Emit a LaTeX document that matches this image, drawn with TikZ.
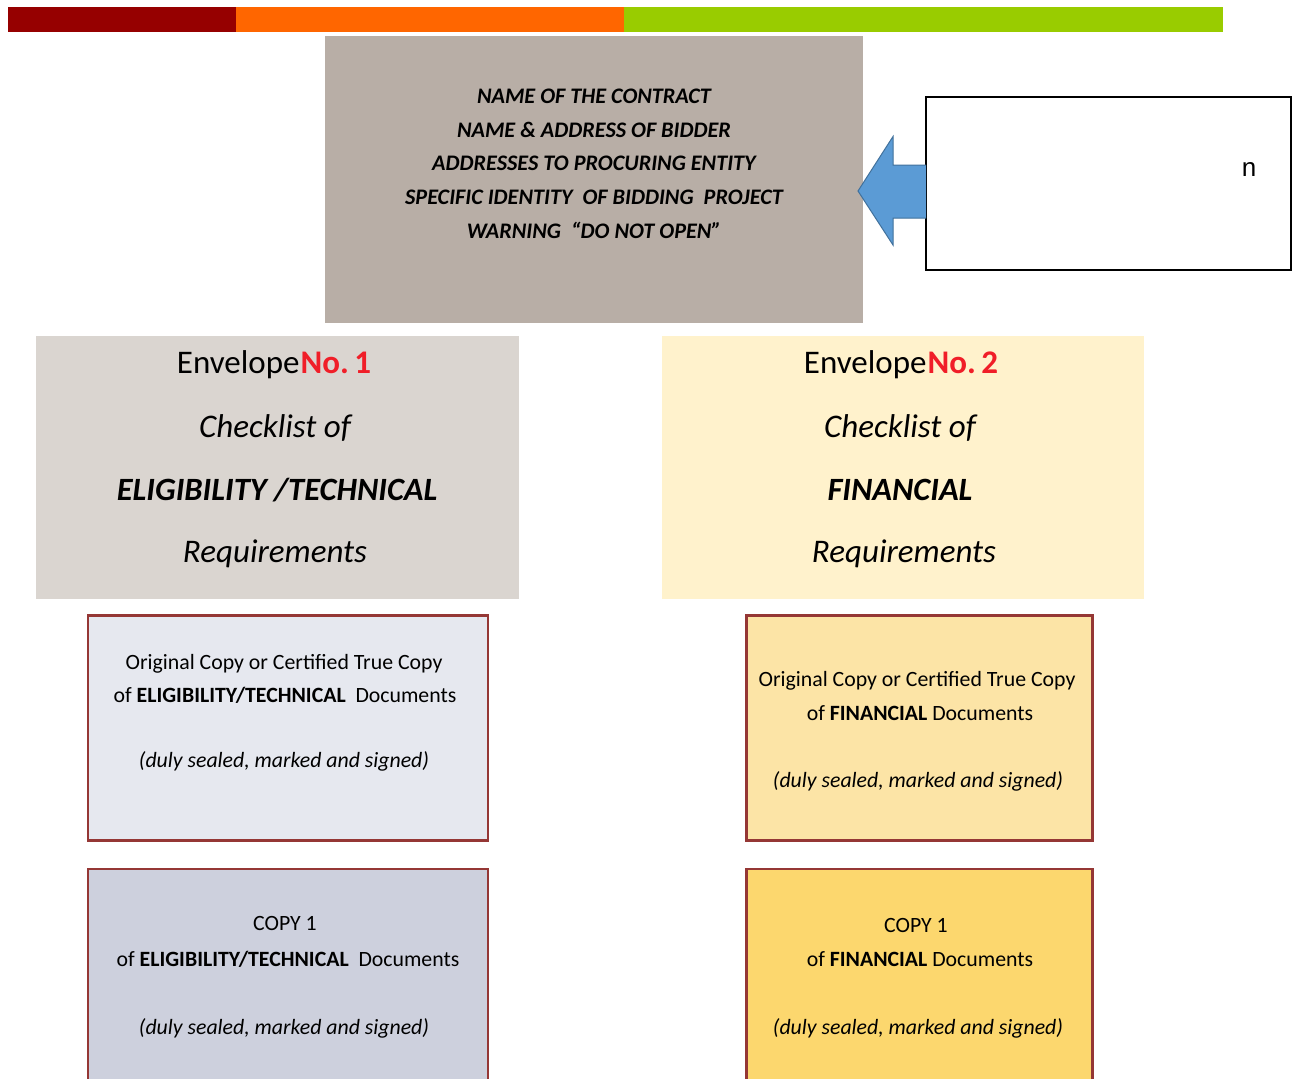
\documentclass[tikz,border=0pt]{standalone}
\usepackage{fontspec}
\setmainfont{Carlito}
\newfontfamily\arialfont{Liberation Sans}
\definecolor{bardark}{HTML}{960000}
\definecolor{barorange}{HTML}{FF6600}
\definecolor{bargreen}{HTML}{99CC00}
\definecolor{topfill}{HTML}{B8AEA6}
\definecolor{envonefill}{HTML}{DAD5D0}
\definecolor{envtwofill}{HTML}{FFF2CC}
\definecolor{ocfill}{HTML}{E6E8EF}
\definecolor{cofill}{HTML}{CDD0DD}
\definecolor{offill}{HTML}{FCE4A6}
\definecolor{cffill}{HTML}{FCD76E}
\definecolor{boxborder}{HTML}{953735}
\definecolor{arrowfill}{HTML}{5B9BD5}
\definecolor{arrowline}{HTML}{41719C}
\definecolor{nored}{HTML}{F01E28}
\tikzset{
  panel/.style={draw=none, rectangle, inner sep=0pt, outer sep=0pt},
  docbox/.style={draw=boxborder, line width=2.2pt, rectangle, inner sep=0pt, outer sep=0pt},
  toptext/.style={anchor=base, inner sep=0pt, font=\fontsize{22.2}{27}\selectfont\bfseries\itshape},
  envtext/.style={anchor=base, inner sep=0pt, font=\fontsize{33}{40}\selectfont},
  doctext/.style={anchor=base, inner sep=0pt, font=\fontsize{21.8}{26}\selectfont},
}
\begin{document}
\begin{tikzpicture}[x=1pt,y=-1pt]
\useasboundingbox (0,0) rectangle (1299,1079);
\fill[white] (0,0) rectangle (1299,1079);
% top bar
\fill[bardark] (7.5,7) rectangle (236,32);
\fill[barorange] (236,7) rectangle (624,32);
\fill[bargreen] (624,7) rectangle (1223,32);
% top box
\node[panel, fill=topfill, minimum width=538pt, minimum height=287pt] (top) at (594,179.5) {};
\node[toptext] (t1) at (594,103) {NAME OF THE CONTRACT};
\node[toptext] (t2) at (594,137) {NAME \& ADDRESS OF BIDDER};
\node[toptext] (t3) at (594,170) {ADDRESSES TO PROCURING ENTITY};
\node[toptext] (t4) at (594,204) {SPECIFIC IDENTITY\ \ OF BIDDING\ \ PROJECT};
\node[toptext] (t5) at (594,238) {WARNING\ \ “DO NOT OPEN”};
% white box with n
\node[draw=black, line width=2pt, rectangle, minimum width=365pt, minimum height=173pt, inner sep=0pt, outer sep=0pt, fill=white] (note) at (1108.5,183.5) {};
\node[anchor=base, inner sep=0pt, font=\arialfont\fontsize{26}{30}\selectfont] (nchar) at (1249,176) {n};
% blue arrow
\coordinate (arrtip) at (858,191);
\draw[fill=arrowfill, draw=arrowline, line width=1pt, line join=miter]
  (note.west |- 0,165) -- (893,165) -- (893,136.5) -- (arrtip) -- (893,245) -- (893,218) -- (note.west |- 0,218);
% envelope 1
\node[panel, fill=envonefill, minimum width=483pt, minimum height=263pt] (env1) at (277.5,467.5) {};
\node[envtext] (e1a) at (274,373) {Envelope\hspace{1pt}{\color{nored}\bfseries No.\,1}};
\node[envtext, font=\fontsize{33}{40}\selectfont\itshape] (e1b) at (275,437) {Checklist of};
\node[envtext, font=\fontsize{32.5}{40}\selectfont\bfseries\itshape] (e1c) at (277,500) {ELIGIBILITY /TECHNICAL};
\node[envtext, font=\fontsize{33}{40}\selectfont\itshape] (e1d) at (275,562) {Requirements};
% envelope 2
\node[panel, fill=envtwofill, minimum width=482pt, minimum height=263pt] (env2) at (903,467.5) {};
\node[envtext] (e2a) at (901,373) {Envelope\hspace{1pt}{\color{nored}\bfseries No.\,2}};
\node[envtext, font=\fontsize{33}{40}\selectfont\itshape] (e2b) at (900,437) {Checklist of};
\node[envtext, font=\fontsize{32.5}{40}\selectfont\bfseries\itshape] (e2c) at (900,500) {FINANCIAL};
\node[envtext, font=\fontsize{33}{40}\selectfont\itshape] (e2d) at (904,562) {Requirements};
% original copy 1
\node[docbox, fill=ocfill, minimum width=400pt, minimum height=225pt] (oc1) at (288,728) {};
\node[doctext] (oc1a) at (284,669) {Original Copy or Certified True Copy};
\node[doctext] (oc1b) at (285,702) {of \textbf{ELIGIBILITY/TECHNICAL}\ \ Documents};
\node[doctext, font=\fontsize{21.8}{26}\selectfont\itshape] (oc1c) at (284,767) {(duly sealed, marked and signed)};
% copy 1 of 1
\node[docbox, fill=cofill, minimum width=400pt, minimum height=240pt] (co1) at (288,989) {};
\node[doctext] (co1a) at (285,930) {COPY 1};
\node[doctext] (co1b) at (288,966) {of \textbf{ELIGIBILITY/TECHNICAL}\ \ Documents};
\node[doctext, font=\fontsize{21.8}{26}\selectfont\itshape] (co1c) at (284,1034) {(duly sealed, marked and signed)};
% original copy 2
\node[docbox, fill=offill, minimum width=346pt, minimum height=225pt] (of2) at (919.5,728) {};
\node[doctext] (of2a) at (917,686) {Original Copy or Certified True Copy};
\node[doctext] (of2b) at (920,720) {of \textbf{FINANCIAL} Documents};
\node[doctext, font=\fontsize{21.8}{26}\selectfont\itshape] (of2c) at (918,787) {(duly sealed, marked and signed)};
% copy 1 of 2
\node[docbox, fill=cffill, minimum width=346pt, minimum height=240pt] (cf2) at (919.5,989) {};
\node[doctext] (cf2a) at (916,932) {COPY 1};
\node[doctext] (cf2b) at (920,966) {of \textbf{FINANCIAL} Documents};
\node[doctext, font=\fontsize{21.8}{26}\selectfont\itshape] (cf2c) at (918,1034) {(duly sealed, marked and signed)};
\end{tikzpicture}
\end{document}
